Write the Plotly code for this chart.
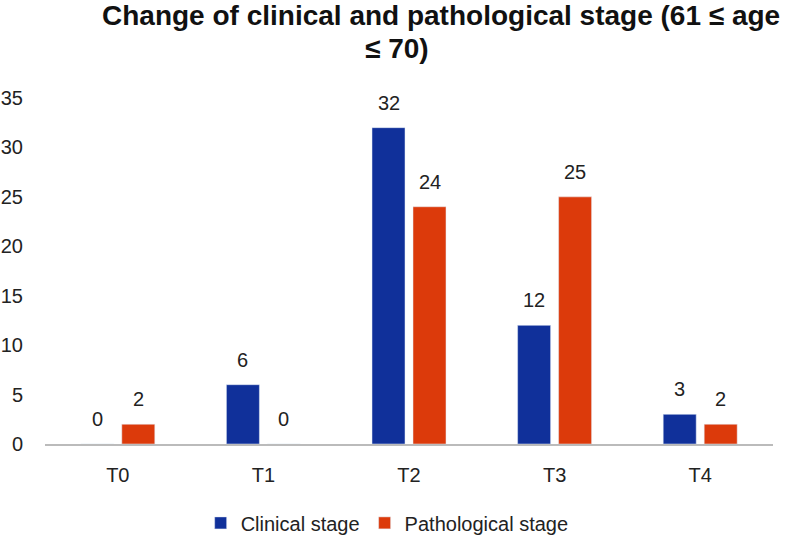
import plotly.graph_objects as go

categories = ["T0", "T1", "T2", "T3", "T4"]
clinical = [0, 6, 32, 12, 3]
pathological = [2, 0, 24, 25, 2]
y_ticks = [0, 5, 10, 15, 20, 25, 30, 35]
series_names = ["Clinical stage", "Pathological stage"]
colors = ["#10309A", "#DC3A0B"]
title_lines = ["Change of clinical and pathological stage (61 ≤ age", "≤ 70)"]

font_family = "Liberation Sans, Arial, sans-serif"

fig = go.Figure()
fig.add_trace(go.Bar(x=categories, y=clinical, name=series_names[0],
                     marker_color=colors[0]))
fig.add_trace(go.Bar(x=categories, y=pathological, name=series_names[1],
                     marker_color=colors[1]))

# value labels above the bars (positioned from data through axis scales)
annotations = []
for values, shift in ((clinical, -20.5), (pathological, 20.5)):
    for cat, v in zip(categories, values):
        annotations.append(dict(x=cat, y=v, xref="x", yref="y", text=str(v),
                                showarrow=False, xshift=shift, yshift=12,
                                yanchor="bottom", xanchor="center",
                                font=dict(size=20, color="#222222")))

# title (two lines)
for line, xpos, ypos in ((title_lines[0], 0.5446, 1.239), (title_lines[1], 0.4835, 1.1445)):
    annotations.append(dict(
        text=f"<b>{line}</b>", xref="paper", yref="paper", x=xpos, y=ypos,
        xanchor="center", yanchor="middle", showarrow=False,
        font=dict(size=28, color="#111111")))

fig.update_layout(
    width=795, height=540,
    paper_bgcolor="white", plot_bgcolor="white",
    font=dict(family=font_family, size=19, color="#222222"),
    barmode="group", bargap=0.437, bargroupgap=0.195,
    margin=dict(l=45, r=22, t=98, b=96, autoexpand=False),
    showlegend=True,
    legend=dict(orientation="h", x=0.47, xanchor="center", y=-0.228, yanchor="middle",
                font=dict(size=20), traceorder="normal"),
    annotations=annotations,
    xaxis=dict(showline=True, linecolor="#BBBBBB", linewidth=2, ticks="",
               tickfont=dict(size=20), ticklabelstandoff=12, automargin=False),
    yaxis=dict(range=[0, 35], tickvals=y_ticks, showgrid=False, zeroline=False,
               showline=False, tickfont=dict(size=20), ticklabelstandoff=21,
               automargin=False),
)

fig.write_html("out.html", config={"displayModeBar": False},
               post_script="document.body.style.margin='0';")
